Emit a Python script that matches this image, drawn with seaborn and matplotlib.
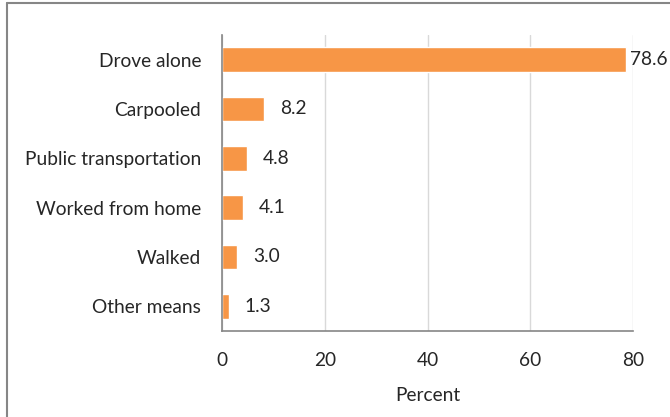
import numpy as np
import matplotlib
matplotlib.use("Agg")
import matplotlib.pyplot as plt
import seaborn as sns
from matplotlib.lines import Line2D

modes = ["Drove alone", "Carpooled", "Public transportation",
         "Worked from home", "Walked", "Other means"]
percent = [78.6, 8.2, 4.8, 4.1, 3.0, 1.3]
xticks = [0, 20, 40, 60, 80]

sns.set_style("white")
plt.rcParams["font.family"] = ["Lato", "DejaVu Sans"]
fs = 13.8

fig = plt.figure(figsize=(6.7, 4.17), dpi=100)
ax = fig.add_axes([222 / 670, 1 - 331 / 417, (633 - 222) / 670, (331 - 35) / 417])

sns.barplot(x=percent, y=modes, color="#F79646", width=0.5, saturation=1,
            ax=ax, orient="h")

ax.set_xlim(0, 80)
ax.set_ylim(5.5, -0.5)
ax.set_xticks(xticks)
ax.set_xticklabels([str(t) for t in xticks], fontsize=fs)
ax.tick_params(axis="y", length=0, labelsize=fs, pad=15)
ax.set_yticks(np.arange(-0.5, 6, 1), minor=True)
ax.tick_params(axis="y", which="minor", length=5, color="#868686", direction="out")
ax.tick_params(axis="x", length=5, color="#868686", direction="out", pad=10)
ax.xaxis.grid(True, color="#D9D9D9", linewidth=1)
ax.set_axisbelow(True)
for s in ["top", "right"]:
    ax.spines[s].set_visible(False)
for s in ["left", "bottom"]:
    ax.spines[s].set_color("#868686")
    ax.spines[s].set_linewidth(1.2)
ax.set_xlabel("Percent", fontsize=fs, labelpad=13)
ax.set_ylabel("")

for i, v in enumerate(percent):
    off = 0.8 if v > 70 else 3.1
    ax.text(v + off, i, f"{v:.1f}", va="center", ha="left", fontsize=fs)

# chart frame (top and left edges visible)
fig.add_artist(Line2D([7 / 670, 7 / 670], [0, 1 - 3 / 417], color="#868686",
                      linewidth=1.5, transform=fig.transFigure))
fig.add_artist(Line2D([7 / 670, 1], [1 - 3 / 417, 1 - 3 / 417], color="#868686",
                      linewidth=1.5, transform=fig.transFigure))

fig.savefig("out.png", dpi=100)
